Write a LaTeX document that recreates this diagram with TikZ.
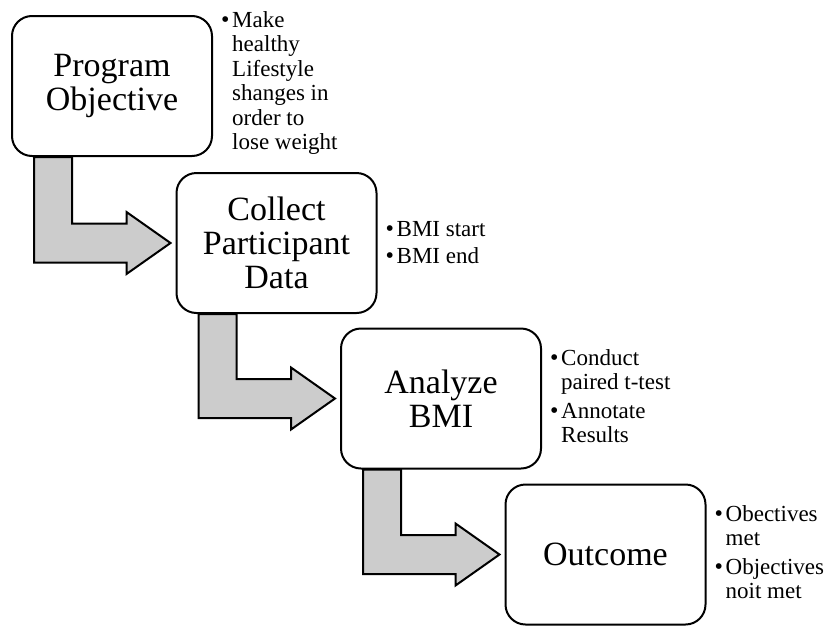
\documentclass[tikz,border=0pt]{standalone}
\usepackage{fontspec}
\setmainfont{Liberation Serif}
\usetikzlibrary{calc,backgrounds}

% bullet and hanging indent for the note lists
\newcommand\sbul{\makebox[10pt][l]{\hspace*{-1pt}{\fontsize{24}{24}\selectfont\textbullet}}}
\newcommand\sind{\hspace*{10pt}}

% bent block arrow from the bottom of one stage to the left side of the next
\newcommand\bentarrow[2]{%
  \draw[bendarrow] let \p1=(#1.south west), \p2=(#2.west) in
    (\x1+23pt,\y1) -- (\x1+61pt,\y1) -- (\x1+61pt,\y2+19.5pt)
    -- (\x2-49pt,\y2+19.5pt) -- (\x2-49pt,\y2+31pt) -- (\x2-5pt,\y2)
    -- (\x2-49pt,\y2-31pt) -- (\x2-49pt,\y2-19.5pt)
    -- (\x1+23pt,\y2-19.5pt) -- cycle;}

\begin{document}
\begin{tikzpicture}[x=1pt,y=-1pt,
  stage/.style={draw=black, line width=2pt, rounded corners=20pt, fill=white,
    minimum width=200pt, minimum height=140pt, inner sep=0pt, align=center,
    font=\fontsize{34}{34}\selectfont},
  notes/.style={anchor=west, inner sep=0pt, align=left,
    font=\fontsize{23}{24}\selectfont},
  bendarrow/.style={draw=black, line width=2pt, fill=gray!40, line join=miter}]
\useasboundingbox (0,0) rectangle (829,627);

% stages
\node[stage] (b1) at (112,86)    {Program\\Objective};
\node[stage] (b2) at (276.5,243) {Collect\\Participant\\Data};
\node[stage] (b3) at (441,398.5) {Analyze\\BMI};
\node[stage] (b4) at (605.5,554.5) {Outcome};

% notes beside each stage
\node[notes, font=\fontsize{23}{24.5}\selectfont] (n1) at ([xshift=9pt,yshift=3pt]b1.east)
  {\sbul Make\\\sind healthy\\\sind Lifestyle\\\sind shanges in\\\sind order to\\\sind lose weight};
\node[notes] (n2) at ([xshift=9pt]b2.east)
  {\sbul BMI start\\[3pt]\sbul BMI end};
\node[notes] (n3) at ([xshift=9pt,yshift=2pt]b3.east)
  {\sbul Conduct\\\sind paired t-test\\[5pt]\sbul Annotate\\\sind Results};
\node[notes] (n4) at ([xshift=9pt,yshift=2pt]b4.east)
  {\sbul Obectives\\\sind met\\[5pt]\sbul Objectives\\\sind noit met};

% connecting block arrows
\begin{scope}[on background layer]
  \bentarrow{b1}{b2}
  \bentarrow{b2}{b3}
  \bentarrow{b3}{b4}
\end{scope}
\end{tikzpicture}
\end{document}
